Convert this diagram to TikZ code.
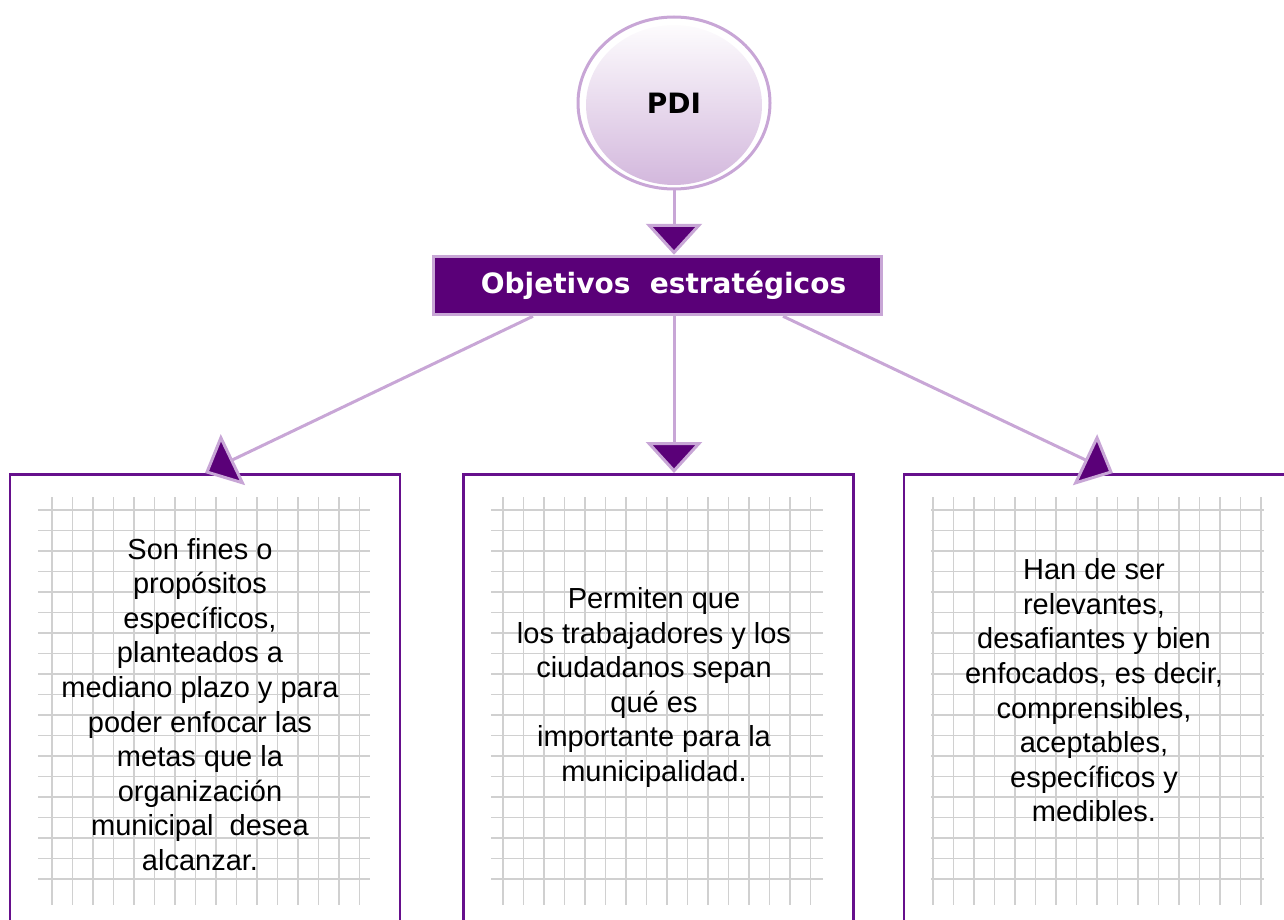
\documentclass[tikz,border=0pt]{standalone}
\usepackage{fontspec}
\setmainfont{Liberation Sans}
\newfontfamily\headfont{DejaVu Sans}
\usetikzlibrary{arrows.meta,shapes.geometric,calc}
\definecolor{lila}{RGB}{200,166,214}
\definecolor{uva}{RGB}{90,0,120}
\definecolor{borde}{RGB}{102,16,140}
\definecolor{rejilla}{RGB}{208,208,208}
\definecolor{malva}{RGB}{210,182,220}

\begin{document}
\begin{tikzpicture}[x=1pt,y=-1pt]
	\tikzstyle{every node}+=[inner sep=0pt]
	\tikzstyle{flecha}=[draw=lila, line width=3pt, -{Triangle[length=31pt,width=56pt,fill=uva]}]
	\tikzstyle{hoja}=[draw=borde, line width=2.5pt, fill=white, minimum width=390pt, minimum height=470pt, anchor=north]
	\tikzstyle{texto}=[align=center, font=\fontsize{29}{34.6}\selectfont]
	\useasboundingbox (0,0) rectangle (1284,920);

	\node[hoja] (izq) at (205,473) {};
	\node[hoja] (med) at (658.5,473) {};
	\node[hoja] (der) at (1099,473) {};

	\foreach \xa/\xb/\xv/\nv in {38/370/52/15, 491/823/503/15, 931/1264/933/16}{
		\foreach \i in {0,...,\nv}
			\draw[rejilla, line width=1.8pt] (\xv+20.5*\i,497) -- (\xv+20.5*\i,905);
		\foreach \j in {0,...,18}
			\draw[rejilla, line width=1.8pt] (\xa,510+20.5*\j) -- (\xb,510+20.5*\j);
	}

	\node[texto] (izqt) at (200,704.5) {Son fines o\\propósitos\\específicos,\\planteados a\\mediano plazo y para\\poder enfocar las\\metas que la\\organización\\municipal\ \ desea\\alcanzar.};
	\node[texto] (medt) at (654,687.5) {Permiten que\\los trabajadores y los\\ciudadanos sepan\\qué es\\importante para la\\municipalidad.};
	\node[texto] (dert) at (1094,690.5) {Han de ser\\relevantes,\\desafiantes y bien\\enfocados, es decir,\\comprensibles,\\aceptables,\\específicos y\\medibles.};

	\node[ellipse, draw=lila, line width=3pt, minimum width=192pt, minimum height=172pt,
		path picture={\shade[top color=white, middle color={rgb,255:red,236;green,224;blue,241}, bottom color=malva] ([yshift=-2pt]path picture bounding box.center) ellipse (88pt and 80pt);},
		font=\headfont\bfseries\fontsize{28}{30}\selectfont] (pdi) at (674,103) {PDI};
	\node[draw=lila, line width=3.5pt, fill=uva, minimum width=448pt, minimum height=58pt, text=white,
		font=\headfont\bfseries\fontsize{28}{30}\selectfont] (obj) at (657.5,285.5) {\hspace{12pt}Objetivos\ \ estratégicos};

	\draw[flecha] (pdi.south) -- (obj.north -| pdi.south);
	\draw[flecha] ($(obj.south -| pdi.south)+(-141,0)$) -- (izq.north);
	\draw[flecha] (obj.south -| pdi.south) -- (med.north -| pdi.south);
	\draw[flecha] ($(obj.south -| pdi.south)+(109,0)$) -- ($(der.north)+(14,0)$);
\end{tikzpicture}
\end{document}
